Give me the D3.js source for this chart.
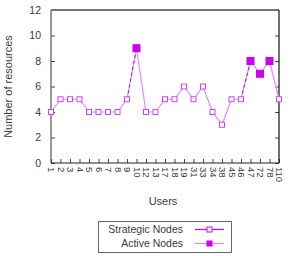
<!DOCTYPE html>
<html>
<head>
<meta charset="utf-8">
<script src="https://cdn.jsdelivr.net/npm/d3@7"></script>
<style>
  body { margin: 0; background: #fff; }
  text { font-family: "Liberation Sans", Arial, sans-serif; fill: #3a3a3a; }
</style>
</head>
<body>
<div id="chart"></div>
<script>
// data
const users = ["1","2","3","4","5","6","7","8","9","10","12","13","17","18","19","31","33","34","38","45","46","47","72","78","110"];
const resources = [4,5,5,5,4,4,4,4,5,9,4,4,5,5,6,5,6,4,3,5,5,8,7,8,5];
// which users are active nodes (filled markers), the rest are strategic
const activeUsers = ["10","47","72","78"];
const yTicks = [0,2,4,6,8,10,12];

const W = 289, H = 256;
const margin = {top: 10, right: 10, bottom: 93, left: 51};
const width = W - margin.left - margin.right,
      height = H - margin.top - margin.bottom;

const svg = d3.select("#chart").append("svg")
    .attr("width", W).attr("height", H);

const g = svg.append("g")
    .attr("transform", `translate(${margin.left},${margin.top})`);

const x = d3.scalePoint().domain(users).range([0, width]);
const y = d3.scaleLinear().domain([0, 12]).range([height, 0]);

// y axis left + mirrored right, ticks pointing inward
const yAxis = g.append("g")
    .call(d3.axisLeft(y).tickValues(yTicks).tickSizeInner(-4).tickSizeOuter(0).tickPadding(10));
yAxis.select(".domain").remove();
yAxis.selectAll("line").attr("stroke", "#444");
yAxis.selectAll("text").attr("font-size", "10.5px");

const yAxisR = g.append("g")
    .attr("transform", `translate(${width},0)`)
    .call(d3.axisRight(y).tickValues(yTicks).tickSizeInner(-4).tickSizeOuter(0).tickFormat(""));
yAxisR.select(".domain").remove();
yAxisR.selectAll("line").attr("stroke", "#444");

// x axis, labels rotated
const xAxis = g.append("g")
    .attr("transform", `translate(0,${height})`)
    .call(d3.axisBottom(x).tickSizeInner(-4).tickSizeOuter(0).tickPadding(3));
xAxis.select(".domain").remove();
xAxis.selectAll("line").attr("stroke", "#444");
xAxis.selectAll("text")
    .attr("font-size", "9.5px")
    .attr("text-anchor", "start")
    .attr("dy", "0.35em")
    .attr("transform", "rotate(90) translate(4,0)")
    .attr("y", 0).attr("x", 0);

// frame
g.append("line").attr("x1", 0).attr("x2", width).attr("y1", 0).attr("y2", 0)
    .attr("stroke", "#777").attr("stroke-width", 2);
g.append("line").attr("x1", 0).attr("x2", 0).attr("y1", 0).attr("y2", height)
    .attr("stroke", "#555").attr("stroke-width", 1.2);
g.append("line").attr("x1", width).attr("x2", width).attr("y1", 0).attr("y2", height)
    .attr("stroke", "#111").attr("stroke-width", 1.2);
g.append("line").attr("x1", 0).attr("x2", width).attr("y1", height).attr("y2", height)
    .attr("stroke", "#222").attr("stroke-width", 1.2);

const pts = users.map((u, i) => ({u: u, v: resources[i], active: activeUsers.includes(u)}));

const line = d3.line().x(d => x(d.u)).y(d => y(d.v));

// main line
g.append("path").datum(pts)
    .attr("d", line)
    .attr("fill", "none")
    .attr("stroke", "#e08cff")
    .attr("stroke-width", 1.2);

// darker pieces leading up to active nodes
pts.forEach(function(d, i) {
    if (d.active && i > 0 && !pts[i-1].active) {
        g.append("path").datum([pts[i-1], d])
            .attr("d", line)
            .attr("fill", "none")
            .attr("stroke", "#b800e6")
            .attr("stroke-width", 1)
            .attr("stroke-dasharray", "3,3");
    }
});

// markers
g.selectAll(".mk").data(pts).enter().append("rect")
    .attr("class", "mk")
    .attr("x", d => x(d.u) - (d.active ? 3.5 : 2.5))
    .attr("y", d => y(d.v) - (d.active ? 3.5 : 2.5))
    .attr("width", d => d.active ? 7 : 5)
    .attr("height", d => d.active ? 7 : 5)
    .attr("fill", d => d.active ? "#cc00ee" : "#fff")
    .attr("stroke", d => d.active ? "#cc00ee" : "#cc44ff")
    .attr("stroke-width", 1);

// axis titles
svg.append("text")
    .attr("transform", `translate(12,${margin.top + height / 2}) rotate(-90)`)
    .attr("text-anchor", "middle")
    .attr("font-size", "11px")
    .text("Number of resources");

svg.append("text")
    .attr("x", 163).attr("y", 205)
    .attr("text-anchor", "middle")
    .attr("font-size", "11px")
    .text("Users");

// legend
const legend = svg.append("g");
legend.append("rect")
    .attr("x", 98.5).attr("y", 221.5)
    .attr("width", 133).attr("height", 31)
    .attr("fill", "#fff").attr("stroke", "#666");

const legendItems = [
    {name: "Strategic Nodes", line: "#cc00ff", fill: "#fff", stroke: "#cc00ff"},
    {name: "Active Nodes", line: "#dd88ff", fill: "#cc00ee", stroke: "#cc00ee"}
];
legendItems.forEach(function(d, i) {
    const ly = 229.5 + i * 14;
    legend.append("text")
        .attr("x", 183).attr("y", ly).attr("dy", "0.35em")
        .attr("text-anchor", "end")
        .attr("font-size", "10.5px")
        .text(d.name);
    legend.append("line")
        .attr("x1", 195).attr("x2", 224).attr("y1", ly).attr("y2", ly)
        .attr("stroke", d.line).attr("stroke-width", 1.2);
    legend.append("rect")
        .attr("x", 207).attr("y", ly - 2.5).attr("width", 5).attr("height", 5)
        .attr("fill", d.fill).attr("stroke", d.stroke);
});
</script>
</body>
</html>
